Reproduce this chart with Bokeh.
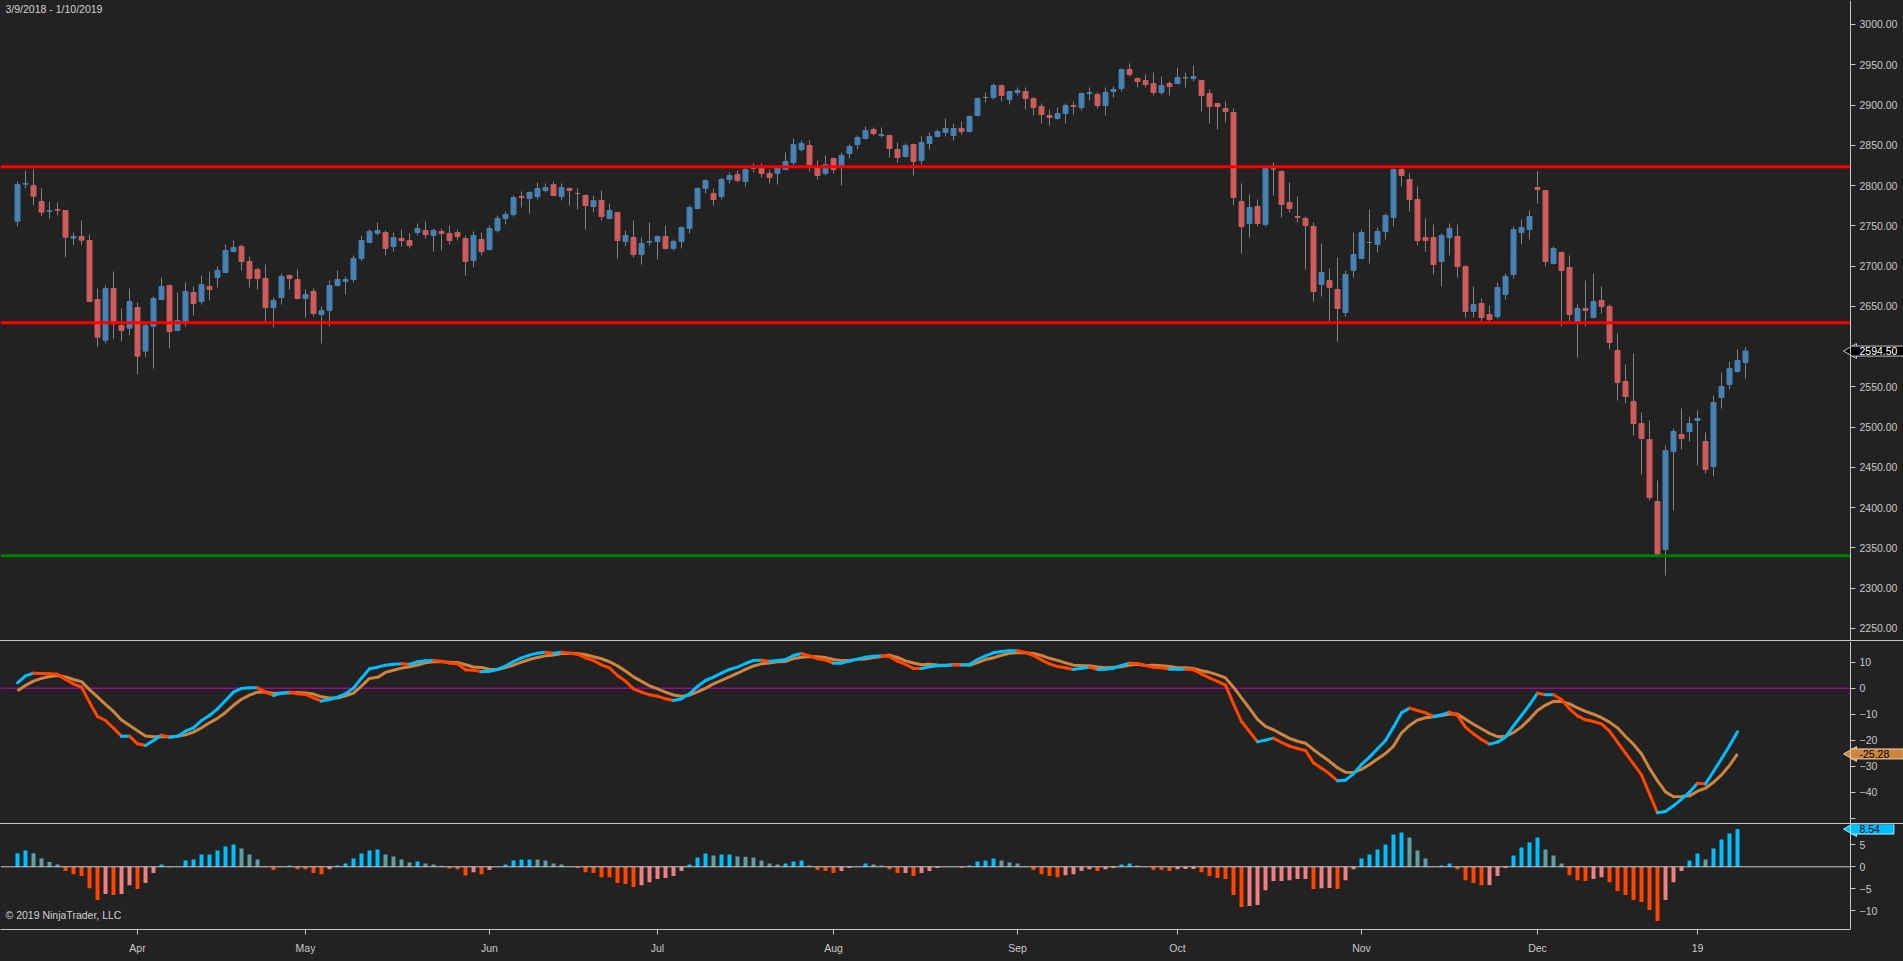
import math
from bokeh.plotting import figure
from bokeh.layouts import column
from bokeh.models import (Range1d, FixedTicker, Label, ColumnDataSource, NumeralTickFormatter,
                          LinearAxis, Div)
from bokeh.embed import file_html
from bokeh.resources import INLINE

# ---------------- data ----------------
date_range_text = "3/9/2018 - 1/10/2019"
copyright_text = "\u00a9 2019 NinjaTrader, LLC"

opens = [2755.8, 2801.7, 2800.1, 2780.2, 2768.2, 2770.3, 2769.0, 2734.7, 2736.7, 2731.8,
         2658.5, 2608.0, 2672.2, 2626.2, 2622.9, 2648.6, 2594.4, 2625.4, 2658.5, 2675.9,
         2620.0, 2630.4, 2667.2, 2656.0, 2674.7, 2685.8, 2692.0, 2718.1, 2724.3, 2705.7,
         2695.8, 2684.6, 2648.6, 2661.0, 2688.3, 2683.3, 2659.8, 2668.5, 2639.9, 2644.9,
         2675.9, 2680.9, 2683.3, 2709.4, 2729.3, 2740.5, 2741.7, 2724.3, 2734.3, 2731.8,
         2741.7, 2744.2, 2738.0, 2743.0, 2740.5, 2741.7, 2734.3, 2707.0, 2733.0, 2720.6,
         2744.2, 2759.1, 2764.1, 2786.4, 2784.0, 2786.4, 2793.9, 2801.3, 2786.4, 2796.4,
         2790.2, 2787.7, 2774.0, 2781.5, 2759.1, 2766.6, 2730.6, 2735.5, 2714.4, 2729.7,
         2730.6, 2736.8, 2721.9, 2730.6, 2746.7, 2771.5, 2796.4, 2790.1, 2786.4, 2807.5,
         2813.7, 2805.0, 2821.2, 2822.4, 2815.0, 2815.0, 2819.9, 2828.6, 2844.8, 2849.7,
         2822.4, 2815.0, 2833.6, 2823.7, 2839.8, 2851.0, 2858.4, 2869.6, 2862.2, 2862.2,
         2844.8, 2836.1, 2851.0, 2831.1, 2852.2, 2860.9, 2865.9, 2862.2, 2870.9, 2867.1,
         2887.0, 2909.4, 2909.4, 2924.3, 2906.9, 2915.6, 2916.8, 2908.1, 2898.2, 2887.0,
         2883.3, 2889.5, 2899.4, 2896.9, 2914.3, 2913.1, 2899.4, 2916.8, 2920.5, 2944.1,
         2932.9, 2930.5, 2926.7, 2915.6, 2926.7, 2926.7, 2933.8, 2932.9, 2930.5, 2914.3,
         2901.9, 2895.7, 2890.7, 2780.2, 2752.9, 2774.0, 2751.7, 2820.8, 2817.5, 2779.0,
         2761.6, 2759.1, 2749.2, 2677.2, 2682.1, 2670.9, 2642.4, 2694.5, 2709.4, 2729.3,
         2726.8, 2743.0, 2760.3, 2819.9, 2807.5, 2782.7, 2735.5, 2735.5, 2705.7, 2735.5,
         2736.8, 2699.5, 2643.6, 2653.5, 2639.9, 2637.4, 2664.7, 2689.6, 2741.7, 2745.4,
         2797.6, 2793.9, 2703.2, 2716.9, 2698.3, 2630.4, 2647.3, 2636.2, 2657.3, 2649.8,
         2595.2, 2556.7, 2531.9, 2504.5, 2484.7, 2407.7, 2348.1, 2469.8, 2490.9, 2494.6,
         2508.3, 2482.2, 2451.1, 2536.8, 2553.0, 2569.1, 2580.3]

highs = [2805.0, 2818.7, 2820.0, 2796.4, 2780.2, 2779.0, 2769.5, 2741.7, 2756.6, 2739.2,
         2672.2, 2675.9, 2693.3, 2647.3, 2672.2, 2654.8, 2628.3, 2662.2, 2685.8, 2677.1,
         2667.2, 2679.6, 2674.7, 2688.3, 2693.3, 2699.5, 2726.8, 2731.8, 2726.8, 2711.9,
         2698.3, 2702.0, 2661.0, 2690.8, 2689.6, 2695.8, 2671.0, 2672.2, 2649.8, 2682.1,
         2694.5, 2687.1, 2713.2, 2738.0, 2745.4, 2754.1, 2744.2, 2741.7, 2745.4, 2740.5,
         2752.9, 2755.4, 2746.7, 2746.7, 2750.4, 2745.4, 2738.0, 2743.0, 2741.7, 2750.4,
         2762.8, 2767.8, 2787.7, 2792.6, 2792.6, 2803.8, 2802.6, 2805.0, 2802.6, 2797.6,
         2796.4, 2788.9, 2787.7, 2793.9, 2777.7, 2767.0, 2744.2, 2756.6, 2735.5, 2754.1,
         2738.0, 2750.4, 2733.0, 2749.2, 2775.2, 2797.6, 2807.6, 2796.4, 2810.0, 2816.2,
         2818.7, 2822.4, 2827.4, 2827.4, 2819.9, 2823.7, 2841.0, 2858.4, 2856.0, 2856.0,
         2831.1, 2837.3, 2834.8, 2841.0, 2851.0, 2862.2, 2873.3, 2872.1, 2872.1, 2862.6,
         2853.5, 2852.2, 2852.2, 2860.9, 2865.9, 2869.6, 2883.3, 2877.1, 2879.6, 2887.0,
         2909.4, 2915.6, 2926.7, 2925.5, 2917.2, 2921.8, 2921.8, 2909.4, 2901.9, 2894.4,
         2896.9, 2901.9, 2904.4, 2915.6, 2921.8, 2915.6, 2921.8, 2923.0, 2945.4, 2951.6,
         2934.2, 2937.9, 2940.4, 2935.4, 2929.2, 2946.6, 2940.4, 2949.1, 2930.9, 2919.3,
         2902.3, 2904.4, 2895.7, 2802.6, 2788.9, 2782.7, 2822.4, 2828.6, 2818.7, 2803.8,
         2786.4, 2761.6, 2754.1, 2728.1, 2697.0, 2710.7, 2694.5, 2741.7, 2745.4, 2770.3,
         2747.9, 2765.3, 2821.2, 2822.4, 2815.0, 2798.8, 2759.1, 2751.6, 2740.5, 2752.9,
         2751.6, 2700.7, 2674.7, 2659.8, 2651.1, 2679.6, 2690.8, 2749.2, 2757.9, 2769.0,
         2817.5, 2794.3, 2724.3, 2718.1, 2713.2, 2652.3, 2682.1, 2690.8, 2674.7, 2652.3,
         2616.3, 2577.8, 2591.5, 2518.2, 2508.3, 2433.8, 2477.2, 2498.3, 2523.2, 2513.2,
         2520.7, 2493.4, 2539.3, 2567.9, 2581.5, 2596.4, 2599.0]

lows = [2749.6, 2796.8, 2775.2, 2762.0, 2758.3, 2763.2, 2711.1, 2726.0, 2726.0, 2655.2,
        2599.3, 2604.3, 2609.3, 2606.8, 2614.2, 2565.8, 2586.9, 2572.8, 2657.3, 2597.7,
        2619.6, 2625.0, 2638.6, 2652.3, 2657.3, 2673.4, 2691.6, 2716.9, 2694.5, 2673.4,
        2671.0, 2630.4, 2623.7, 2652.3, 2671.0, 2658.5, 2636.2, 2637.4, 2603.9, 2625.0,
        2674.7, 2664.7, 2679.6, 2706.1, 2728.9, 2738.0, 2713.2, 2718.1, 2724.3, 2721.9,
        2738.0, 2734.3, 2718.1, 2719.4, 2726.8, 2731.8, 2688.3, 2698.3, 2713.2, 2719.4,
        2741.7, 2751.7, 2761.6, 2772.8, 2765.3, 2782.7, 2791.4, 2787.2, 2781.5, 2775.2,
        2770.3, 2745.4, 2766.6, 2756.6, 2757.9, 2709.4, 2724.3, 2710.7, 2702.0, 2725.6,
        2708.2, 2720.6, 2719.4, 2721.9, 2740.5, 2771.1, 2790.2, 2775.2, 2782.7, 2802.6,
        2803.8, 2798.8, 2816.2, 2810.0, 2802.6, 2801.3, 2819.5, 2824.9, 2842.3, 2817.5,
        2807.5, 2812.5, 2815.0, 2800.1, 2833.6, 2844.8, 2857.2, 2862.2, 2859.7, 2834.8,
        2828.6, 2834.8, 2812.5, 2826.1, 2844.8, 2859.7, 2860.9, 2855.9, 2863.4, 2865.9,
        2885.8, 2903.1, 2906.9, 2904.4, 2900.7, 2911.8, 2894.4, 2887.0, 2877.1, 2874.6,
        2882.0, 2877.1, 2888.2, 2893.2, 2905.6, 2895.7, 2887.0, 2909.4, 2916.8, 2935.4,
        2921.8, 2921.8, 2911.8, 2913.1, 2911.8, 2926.3, 2921.8, 2929.2, 2892.0, 2877.1,
        2869.6, 2878.3, 2775.2, 2715.6, 2735.5, 2749.2, 2749.2, 2787.7, 2760.3, 2766.6,
        2754.1, 2695.8, 2656.0, 2662.2, 2631.2, 2606.4, 2637.4, 2685.8, 2709.0, 2703.2,
        2716.9, 2733.0, 2749.2, 2798.8, 2767.8, 2725.6, 2718.1, 2689.6, 2674.7, 2713.2,
        2685.8, 2636.2, 2636.2, 2631.2, 2631.2, 2634.9, 2658.5, 2684.6, 2726.8, 2733.0,
        2777.7, 2699.5, 2702.0, 2625.0, 2631.2, 2586.5, 2625.0, 2634.9, 2641.1, 2596.4,
        2533.1, 2529.4, 2489.6, 2441.2, 2408.9, 2340.2, 2315.8, 2396.5, 2472.3, 2482.2,
        2452.4, 2442.5, 2438.7, 2523.2, 2546.8, 2567.9, 2560.4]

closes = [2801.3, 2802.6, 2786.8, 2767.0, 2769.0, 2769.4, 2735.9, 2736.7, 2732.2, 2656.0,
          2611.7, 2672.2, 2628.3, 2620.0, 2656.0, 2588.2, 2626.2, 2659.8, 2674.7, 2618.8,
          2632.4, 2668.5, 2653.5, 2677.1, 2671.0, 2694.5, 2719.4, 2723.1, 2705.7, 2684.6,
          2684.6, 2648.6, 2657.3, 2687.1, 2684.6, 2659.8, 2664.7, 2641.1, 2644.9, 2675.9,
          2683.3, 2683.3, 2709.4, 2731.8, 2743.0, 2744.2, 2721.9, 2735.5, 2731.8, 2725.6,
          2746.7, 2739.2, 2744.2, 2740.5, 2731.8, 2736.8, 2705.7, 2738.0, 2718.1, 2746.7,
          2759.1, 2764.1, 2785.2, 2785.2, 2791.4, 2796.4, 2797.6, 2787.7, 2797.6, 2793.9,
          2790.2, 2775.2, 2781.5, 2761.6, 2769.1, 2731.8, 2738.0, 2714.4, 2728.1, 2730.6,
          2736.8, 2721.9, 2730.6, 2747.9, 2772.8, 2796.4, 2806.3, 2782.7, 2807.5, 2812.5,
          2806.3, 2819.9, 2821.2, 2815.0, 2810.0, 2822.4, 2829.9, 2851.0, 2852.2, 2826.1,
          2812.5, 2826.1, 2819.9, 2837.3, 2848.5, 2859.7, 2868.4, 2864.6, 2863.4, 2846.0,
          2834.8, 2849.7, 2829.9, 2853.5, 2860.9, 2867.1, 2870.9, 2870.9, 2867.1, 2885.8,
          2908.1, 2909.4, 2924.3, 2911.8, 2916.8, 2918.0, 2908.1, 2896.9, 2888.2, 2884.5,
          2889.5, 2899.4, 2898.2, 2914.3, 2915.6, 2899.4, 2915.6, 2919.3, 2944.1, 2937.9,
          2929.2, 2925.5, 2915.6, 2924.3, 2923.0, 2934.2, 2933.8, 2935.4, 2911.8, 2898.2,
          2898.2, 2892.0, 2785.2, 2749.2, 2772.8, 2752.9, 2821.2, 2820.8, 2776.5, 2771.5,
          2760.3, 2750.4, 2668.4, 2692.0, 2673.4, 2647.3, 2689.6, 2714.4, 2741.7, 2729.3,
          2743.0, 2762.8, 2819.9, 2812.5, 2782.7, 2731.8, 2731.8, 2702.0, 2738.0, 2746.7,
          2699.5, 2643.6, 2652.3, 2636.2, 2633.7, 2673.4, 2687.1, 2745.4, 2747.9, 2761.6,
          2795.1, 2705.7, 2721.9, 2694.5, 2639.9, 2647.3, 2644.9, 2656.0, 2649.8, 2605.1,
          2555.5, 2538.1, 2504.5, 2485.9, 2412.6, 2341.9, 2471.0, 2494.6, 2485.9, 2504.5,
          2510.8, 2447.4, 2530.6, 2550.5, 2572.8, 2582.8, 2594.5]

fast = [2.07, 4.76, 5.79, 5.66, 5.53, 5.40, 3.35, 1.68, 0.40, -5.37,
        -10.88, -12.42, -15.37, -18.45, -18.45, -21.40, -22.04, -20.11, -18.06, -18.83,
        -18.45, -16.52, -15.24, -12.42, -10.50, -7.93, -4.73, -1.52, -0.11, 0.14,
        0.14, -1.52, -2.80, -1.91, -1.52, -2.16, -2.42, -3.70, -4.98, -4.34,
        -3.45, -2.16, 0.02, 3.86, 7.45, 8.09, 8.86, 9.25, 9.38, 9.20,
        10.14, 10.53, 10.66, 10.40, 9.63, 9.38, 7.07, 6.94, 6.30, 6.55,
        7.20, 8.48, 10.27, 11.68, 12.71, 13.48, 13.86, 13.48, 13.86, 13.48,
        13.09, 11.68, 10.66, 8.99, 7.84, 4.89, 2.71, -0.24, -1.52, -2.55,
        -3.06, -4.09, -4.73, -4.09, -2.16, 0.66, 2.96, 4.25, 5.79, 7.20,
        8.09, 9.50, 10.66, 10.79, 10.40, 10.66, 11.04, 12.58, 13.35, 12.45,
        11.30, 10.79, 9.63, 9.63, 10.40, 11.17, 11.94, 12.32, 12.45, 12.20,
        10.40, 9.12, 7.60, 7.58, 8.22, 8.61, 8.73, 8.99, 8.86, 9.12,
        11.04, 12.45, 13.61, 14.12, 14.38, 14.38, 13.73, 12.58, 10.91, 9.38,
        8.35, 7.84, 7.20, 7.71, 8.09, 7.20, 7.33, 7.71, 8.73, 9.63,
        9.50, 8.73, 8.09, 7.84, 7.33, 7.33, 7.33, 7.07, 5.53, 3.99,
        2.58, 1.17, -6.01, -12.81, -16.65, -20.62, -19.98, -19.22, -20.88, -22.29,
        -23.19, -23.96, -28.70, -30.75, -32.93, -35.63, -35.37, -32.93, -29.34, -26.52,
        -23.32, -20.11, -14.98, -9.47, -7.68, -8.57, -9.47, -10.88, -10.24, -9.22,
        -10.50, -14.98, -17.55, -19.73, -21.52, -20.75, -18.83, -14.47, -10.50, -6.39,
        -1.91, -2.55, -2.50, -4.34, -7.93, -10.62, -12.16, -12.81, -13.70, -16.52,
        -20.75, -24.98, -29.09, -33.32, -40.63, -47.93, -47.42, -45.24, -42.68, -39.98,
        -36.60, -36.80, -32.04, -27.16, -22.16, -16.74]

signal = [-1.02, 1.07, 2.70, 3.77, 4.47, 4.87, 4.33, 3.34, 2.51, -0.54,
          -3.34, -6.24, -8.96, -12.27, -14.30, -16.35, -18.35, -18.68, -18.59, -18.75,
          -18.50, -17.95, -16.90, -15.21, -13.30, -11.62, -9.33, -6.57, -4.26, -2.65,
          -1.52, -1.42, -2.05, -1.86, -1.82, -1.63, -1.89, -2.27, -3.32, -3.81,
          -3.75, -2.91, -1.87, 0.84, 3.76, 4.17, 6.07, 6.91, 7.72, 8.22,
          8.93, 9.78, 10.13, 10.17, 10.01, 9.91, 9.03, 8.15, 7.96, 7.30,
          7.20, 7.95, 8.84, 10.02, 11.05, 11.84, 12.43, 12.73, 13.33, 13.40,
          13.39, 12.89, 12.09, 11.33, 10.18, 8.58, 6.63, 4.36, 2.63, 0.92,
          -0.27, -1.53, -2.62, -3.11, -2.69, -1.45, -0.06, 1.69, 3.00, 4.40,
          5.75, 7.20, 8.55, 9.36, 9.65, 10.13, 10.29, 11.37, 11.92, 12.15,
          12.05, 11.77, 11.06, 10.61, 10.70, 11.09, 11.19, 11.79, 12.15, 12.73,
          11.83, 10.52, 9.71, 9.01, 9.20, 8.91, 8.78, 8.99, 9.16, 8.82,
          9.83, 11.02, 11.72, 12.69, 13.40, 13.63, 13.65, 13.33, 12.57, 11.49,
          10.69, 9.73, 8.86, 8.69, 8.62, 8.18, 7.86, 8.01, 8.20, 8.88,
          9.20, 8.73, 8.84, 8.59, 8.31, 7.86, 7.83, 7.55, 6.74, 6.10,
          5.14, 3.96, 0.40, -3.69, -7.75, -11.95, -14.70, -15.98, -17.66, -19.27,
          -20.40, -21.19, -23.65, -25.92, -28.12, -30.58, -32.35, -32.40, -31.23, -29.31,
          -27.24, -25.16, -22.29, -17.24, -14.32, -12.26, -11.36, -10.96, -10.54, -9.97,
          -9.97, -11.96, -13.86, -15.58, -17.39, -18.64, -18.53, -17.03, -14.87, -11.89,
          -8.55, -6.47, -5.06, -5.09, -6.04, -7.60, -8.92, -10.02, -11.36, -13.05,
          -15.25, -18.57, -21.55, -25.33, -30.83, -35.64, -39.88, -41.77, -41.70, -41.41,
          -39.62, -38.46, -36.19, -33.34, -29.70, -25.28]

hist = [3.09, 3.69, 3.09, 1.89, 1.06, 0.53, -0.98, -1.66, -2.11, -4.83,
        -7.54, -6.18, -6.41, -6.18, -4.15, -5.05, -3.69, -1.43, 0.53, -0.08,
        0.05, 1.43, 1.66, 2.79, 2.80, 3.69, 4.60, 5.05, 4.15, 2.79,
        1.66, -0.10, -0.75, -0.05, 0.30, -0.53, -0.53, -1.43, -1.66, -0.53,
        0.30, 0.75, 1.89, 3.02, 3.69, 3.92, 2.79, 2.34, 1.66, 0.98,
        1.21, 0.75, 0.53, 0.23, -0.38, -0.53, -1.96, -1.21, -1.66, -0.75,
        0.00, 0.53, 1.43, 1.66, 1.66, 1.64, 1.43, 0.75, 0.53, 0.08,
        -0.30, -1.21, -1.43, -2.34, -2.34, -3.69, -3.92, -4.60, -4.15, -3.47,
        -2.79, -2.56, -2.11, -0.98, 0.53, 2.11, 3.02, 2.56, 2.79, 2.80,
        2.34, 2.30, 2.11, 1.43, 0.75, 0.53, 0.75, 1.21, 1.43, 0.30,
        -0.75, -0.98, -1.43, -0.98, -0.30, 0.08, 0.75, 0.53, 0.30, -0.53,
        -1.43, -1.40, -2.11, -1.43, -0.98, -0.30, -0.05, 0.00, -0.30, 0.30,
        1.21, 1.43, 1.89, 1.43, 0.98, 0.75, 0.08, -0.75, -1.66, -2.11,
        -2.34, -1.89, -1.66, -0.98, -0.53, -0.98, -0.53, -0.30, 0.53, 0.75,
        0.30, 0.00, -0.75, -0.75, -0.98, -0.53, -0.50, -0.48, -1.21, -2.11,
        -2.56, -2.79, -6.41, -9.12, -8.90, -8.67, -5.28, -3.24, -3.22, -3.02,
        -2.79, -2.77, -5.05, -4.83, -4.81, -5.05, -3.02, -0.53, 1.89, 2.79,
        3.92, 5.05, 7.31, 7.77, 6.64, 3.69, 1.89, 0.08, 0.30, 0.75,
        -0.53, -3.02, -3.69, -4.15, -4.13, -2.11, -0.30, 2.56, 4.37, 5.50,
        6.64, 3.92, 2.56, 0.75, -1.89, -3.02, -3.24, -2.79, -2.34, -3.47,
        -5.50, -6.41, -7.54, -7.99, -9.80, -12.29, -7.54, -3.47, -0.98, 1.43,
        3.02, 1.66, 4.15, 6.18, 7.54, 8.54]

month_ticks = [15, 36, 59, 80, 102, 125, 145, 168, 190, 210]
month_labels = ["Apr", "May", "Jun", "Jul", "Aug", "Sep", "Oct", "Nov", "Dec", "19"]
price_ticks = [2250, 2300, 2350, 2400, 2450, 2500, 2550, 2600, 2650, 2700,
               2750, 2800, 2850, 2900, 2950, 3000]
hidden_price_labels = [2600]          # covered by the last-price marker in the reference
osc_ticks = [10, 0, -10, -20, -30, -40, -50]
hidden_osc_labels = [-50]
hist_ticks = [5, 0, -5, -10]
red_levels = [2823.3, 2629.6]
green_levels = [2340.2]

# ---------------- styling / geometry ----------------
BG = "#222222"
AX = "#c8c8c8"
FONT = "Liberation Sans"
FS = "10.5px"
UP, DOWN, DOJI, WICK = "#4682b4", "#cd5c5c", "#808080", "#808080"
RISE, FALL, SIG = "#00bfff", "#ff4500", "#cd853f"
H_UP, H_UPF, H_DN, H_DNR = "#00bfff", "#5f9ea0", "#ff4500", "#f08080"

W = 1903
xr = Range1d(-2.125, 235.75)   # frame spans the whole width
AXIS_X = 229.125                # where the price scale sits


def make_fig(height, yr, bottom=0):
    p = figure(width=W, height=height, x_range=xr, y_range=yr,
               output_backend="svg", toolbar_location=None,
               background_fill_color=BG, border_fill_color=BG,
               outline_line_color=None, min_border_left=0, min_border_right=0,
               min_border_top=0, min_border_bottom=bottom,
               x_axis_location=None, y_axis_location=None)
    p.xgrid.visible = False
    p.ygrid.visible = False
    return p


def style_axis(ax):
    ax.axis_line_color = AX
    ax.major_tick_line_color = AX
    ax.minor_tick_line_color = None
    ax.major_tick_out = 5
    ax.major_tick_in = 0
    ax.major_label_text_color = AX
    ax.major_label_text_font = FONT
    ax.major_label_text_font_size = FS
    ax.major_label_standoff = 4
    return ax


def add_scale(p, ticks, **kw):
    ax = LinearAxis(fixed_location=AXIS_X, ticker=FixedTicker(ticks=ticks), **kw)
    style_axis(ax)
    p.add_layout(ax, "right")


def hline(p, level, color, width):
    p.segment(x0=[xr.start], y0=[level], x1=[AXIS_X], y1=[level],
              line_color=color, line_width=width)


def tag(p, y, text, fill, tcolor, border):
    p.scatter(x=[AXIS_X + 0.21], y=[y], marker="triangle", size=15, angle=math.pi / 2,
              fill_color=fill, line_color=border, line_width=1)
    p.add_layout(Label(x=AXIS_X, y=y, text=text, text_baseline="middle", text_align="left",
                       x_offset=0, text_font=FONT, text_font_size=FS, text_color=tcolor,
                       background_fill_color=fill, border_line_color=border,
                       padding=(9, 14, 1, 1)))


# ---------------- price panel ----------------
p1 = make_fig(640, Range1d(2235.09, 3029.80))
add_scale(p1, price_ticks, formatter=NumeralTickFormatter(format="0.00"),
          major_label_overrides={v: "" for v in hidden_price_labels})

n = len(closes)
ccol = [UP if c > o else (DOWN if c < o else DOJI) for o, c in zip(opens, closes)]
csrc = ColumnDataSource(dict(x=list(range(n)), h=highs, l=lows,
                             top=[max(o, c) for o, c in zip(opens, closes)],
                             bot=[min(o, c) for o, c in zip(opens, closes)], col=ccol))
p1.segment(x0="x", y0="l", x1="x", y1="h", source=csrc, line_color=WICK, line_width=1)
p1.vbar(x="x", width=0.62, top="top", bottom="bot", source=csrc,
        fill_color="col", line_color="col", line_width=1)
for lv in red_levels:
    hline(p1, lv, "#ff0000", 3)
for lv in green_levels:
    hline(p1, lv, "#008000", 3)
p1.add_layout(Label(x=xr.start, y=p1.y_range.end, text=date_range_text, text_baseline="top",
                    text_align="left", x_offset=5, y_offset=-2, text_font=FONT,
                    text_font_size=FS, text_color="#d2d2d2"))
tag(p1, closes[-1], "%.2f" % closes[-1], "#000000", "#ffffff", "#c8c8c8")

# ---------------- oscillator panel ----------------
p2 = make_fig(182, Range1d(-52.04, 17.96))
add_scale(p2, osc_ticks, major_label_overrides={v: "" for v in hidden_osc_labels})
hline(p2, 0, "#d000d0", 1)
m = len(fast)
p2.line(list(range(m)), signal, line_color=SIG, line_width=3)
seg_col = [RISE if fast[i] >= fast[i - 1] else FALL for i in range(1, m)]
ssrc = ColumnDataSource(dict(x0=list(range(0, m - 1)), x1=list(range(1, m)),
                             y0=fast[:-1], y1=fast[1:], col=seg_col))
p2.segment(x0="x0", y0="y0", x1="x1", y1="y1", source=ssrc, line_color="col",
           line_width=3, line_cap="round")
tag(p2, signal[-1], "%.2f" % signal[-1], SIG, "#000000", "#e8c9a8")

# ---------------- histogram panel ----------------
p3 = make_fig(137, Range1d(-14.19, 9.57), bottom=32)
add_scale(p3, hist_ticks)
xax = LinearAxis(ticker=FixedTicker(ticks=month_ticks),
                 major_label_overrides=dict(zip(month_ticks, month_labels)),
                 bounds=(xr.start, AXIS_X))
style_axis(xax)
xax.major_label_standoff = 7
p3.add_layout(xax, "below")
hcol = []
for i, h in enumerate(hist):
    prev = hist[i - 1] if i > 0 else 0.0
    if h >= 0:
        hcol.append(H_UP if h >= prev else H_UPF)
    else:
        hcol.append(H_DN if h <= prev else H_DNR)
p3.vbar(x=list(range(len(hist))), top=hist, bottom=0, width=0.5, fill_color=hcol,
        line_color=None)
hline(p3, 0, AX, 1)
p3.add_layout(Label(x=xr.start, y=-11.0, text=copyright_text, text_baseline="middle",
                    text_align="left", x_offset=5, text_font=FONT, text_font_size=FS,
                    text_color="#d2d2d2"))
tag(p3, hist[-1], "%.2f" % hist[-1], RISE, "#000000", "#a0e8ff")


def separator():
    return Div(text="", width=W, height=1, margin=(0, 0, 0, 0),
               styles={"background-color": AX})


layout = column(p1, separator(), p2, separator(), p3, spacing=0)

tpl = """{% block preamble %}<style>html, body { background-color: #222222; }</style>{% endblock %}"""

open("out.html", "w").write(file_html(layout, INLINE, title="chart", template=tpl))
